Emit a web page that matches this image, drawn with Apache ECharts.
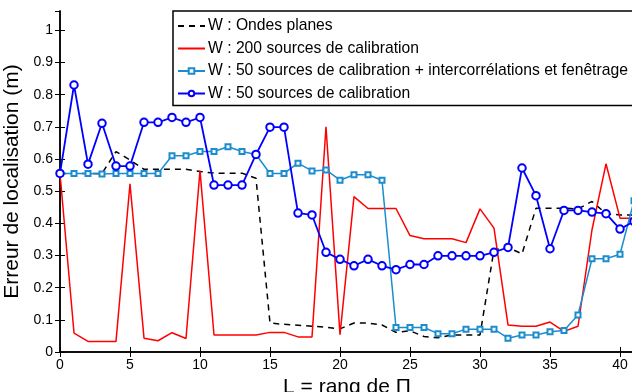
<!DOCTYPE html>
<html>
<head>
<meta charset="utf-8">
<script src="https://cdn.jsdelivr.net/npm/echarts@6/dist/echarts.min.js"></script>
<style>
  html, body { margin: 0; padding: 0; background: #fff; }
  #chart { width: 632px; height: 392px; }
</style>
</head>
<body>
<div id="chart"></div>
<script>
// rang de Pi
const rangs = [0, 1, 2, 3, 4, 5, 6, 7, 8, 9, 10, 11, 12, 13, 14, 15, 16, 17, 18, 19, 20,
  21, 22, 23, 24, 25, 26, 27, 28, 29, 30, 31, 32, 33, 34, 35, 36, 37, 38, 39, 40, 41]

// erreur de localisation (m)
const ondesPlanes = [0.555, 0.555, 0.555, 0.555, 0.623, 0.597, 0.568, 0.568, 0.568, 0.568,
  0.561, 0.556, 0.556, 0.556, 0.54, 0.09, 0.086, 0.083, 0.08, 0.077,
  0.072, 0.09, 0.09, 0.084, 0.061, 0.066, 0.048, 0.044, 0.053, 0.053,
  0.053, 0.318, 0.325, 0.305, 0.447, 0.447, 0.447, 0.445, 0.468, 0.43,
  0.426, 0.426]
const sources200 = [0.555, 0.059, 0.033, 0.033, 0.033, 0.523, 0.043, 0.035, 0.06, 0.042,
  0.564, 0.053, 0.053, 0.053, 0.053, 0.061, 0.061, 0.047, 0.047, 0.70,
  0.054, 0.483, 0.446, 0.446, 0.446, 0.362, 0.352, 0.352, 0.352, 0.34,
  0.445, 0.385, 0.084, 0.08, 0.08, 0.093, 0.064, 0.08, 0.38, 0.585,
  0.416, 0.416]
const sources50Inter = [0.555, 0.555, 0.555, 0.553, 0.555, 0.555, 0.555, 0.555, 0.61, 0.61,
  0.623, 0.623, 0.638, 0.623, 0.614, 0.555, 0.555, 0.587, 0.563, 0.566,
  0.534, 0.551, 0.551, 0.534, 0.076, 0.076, 0.076, 0.057, 0.057, 0.071,
  0.071, 0.071, 0.043, 0.053, 0.053, 0.063, 0.067, 0.115, 0.29, 0.29,
  0.304, 0.47]
const sources50 = [0.555, 0.83, 0.584, 0.711, 0.578, 0.578, 0.714, 0.714, 0.729, 0.714,
  0.729, 0.519, 0.519, 0.519, 0.614, 0.699, 0.699, 0.432, 0.426, 0.31,
  0.288, 0.268, 0.288, 0.268, 0.256, 0.272, 0.272, 0.299, 0.299, 0.299,
  0.299, 0.31, 0.325, 0.572, 0.486, 0.321, 0.44, 0.44, 0.435, 0.43,
  0.382, 0.406]

const noms = [
  'W : Ondes planes',
  'W : 200 sources de calibration',
  'W : 50 sources de calibration + intercorrélations et fenêtrage',
  'W : 50 sources de calibration'
]

const pairs = vals => rangs.map((x, i) => [x, vals[i]])
const font = 'Liberation Sans'

const chart = echarts.init(document.getElementById('chart'))

const hiddenAxis = {
  axisLine: { show: true, lineStyle: { color: '#000', width: 1.5 } },
  axisTick: { show: true, inside: true, length: 5, lineStyle: { color: '#000' } },
  axisLabel: { show: false },
  splitLine: { show: false }
}

chart.setOption({
  animation: false,
  backgroundColor: '#fff',
  textStyle: { fontFamily: font },
  grid: { left: 60, right: -2, top: 11, bottom: 40, outerBoundsMode: 'none', containLabel: false },
  legend: {
    orient: 'vertical',
    left: 173,
    top: 11,
    padding: [7, 20, 4, 4],
    itemGap: 6.5,
    itemWidth: 27,
    itemHeight: 7,
    backgroundColor: '#fff',
    borderColor: '#000',
    borderWidth: 1.5,
    borderRadius: 0,
    textStyle: { fontSize: 15.7, color: '#000', fontFamily: font, padding: [0, 0, 0, -2] },
    data: [
      { name: noms[0], itemStyle: { opacity: 0 } },
      { name: noms[1], itemStyle: { opacity: 0 } },
      noms[2],
      noms[3]
    ]
  },
  xAxis: [{
    type: 'value',
    min: 0,
    max: 41,
    interval: 5,
    name: 'L = rang de Π',
    nameLocation: 'middle',
    nameGap: 18,
    nameTextStyle: { fontSize: 21, color: '#000', fontFamily: font },
    axisLine: { lineStyle: { color: '#000', width: 1.5 } },
    axisTick: { inside: true, length: 5, lineStyle: { color: '#000' } },
    axisLabel: { fontSize: 14, color: '#000', margin: 6, showMaxLabel: false },
    splitLine: { show: false }
  }, Object.assign({
    type: 'value', position: 'top', min: 0, max: 41, interval: 5
  }, hiddenAxis)],
  yAxis: [{
    type: 'value',
    min: 0,
    max: 1.06,
    interval: 0.1,
    name: 'Erreur de localisation (m)',
    nameLocation: 'middle',
    nameGap: 29,
    nameTextStyle: { fontSize: 21, color: '#000', fontFamily: font },
    axisLine: { show: true, lineStyle: { color: '#000', width: 1.5 } },
    axisTick: { show: true, inside: true, length: 5, lineStyle: { color: '#000' } },
    axisLabel: {
      fontSize: 14,
      color: '#000',
      margin: 7,
      showMaxLabel: false,
      formatter: v => (Math.round(v * 10) / 10).toString()
    },
    splitLine: { show: false }
  }, Object.assign({
    type: 'value', position: 'right', min: 0, max: 1.06, interval: 0.1
  }, hiddenAxis)],
  series: [{
    name: noms[0],
    type: 'line',
    data: pairs(ondesPlanes),
    symbol: 'none',
    color: '#000',
    lineStyle: { color: '#000', width: 1.5, type: [6, 5] }
  }, {
    name: noms[1],
    type: 'line',
    data: pairs(sources200),
    symbol: 'none',
    color: '#ff0000',
    lineStyle: { color: '#ff0000', width: 1.5 }
  }, {
    name: noms[2],
    type: 'line',
    data: pairs(sources50Inter),
    symbol: 'emptyRect',
    symbolSize: 5,
    color: '#1b8dcf',
    itemStyle: { color: '#1b8dcf', borderWidth: 1.5 },
    lineStyle: { color: '#1b8dcf', width: 1.5 }
  }, {
    name: noms[3],
    type: 'line',
    data: pairs(sources50),
    symbol: 'emptyCircle',
    symbolSize: 7.5,
    color: '#0000ff',
    itemStyle: { color: '#0000ff', borderWidth: 1.5 },
    lineStyle: { color: '#0000ff', width: 1.8 }
  }]
})
</script>
</body>
</html>
